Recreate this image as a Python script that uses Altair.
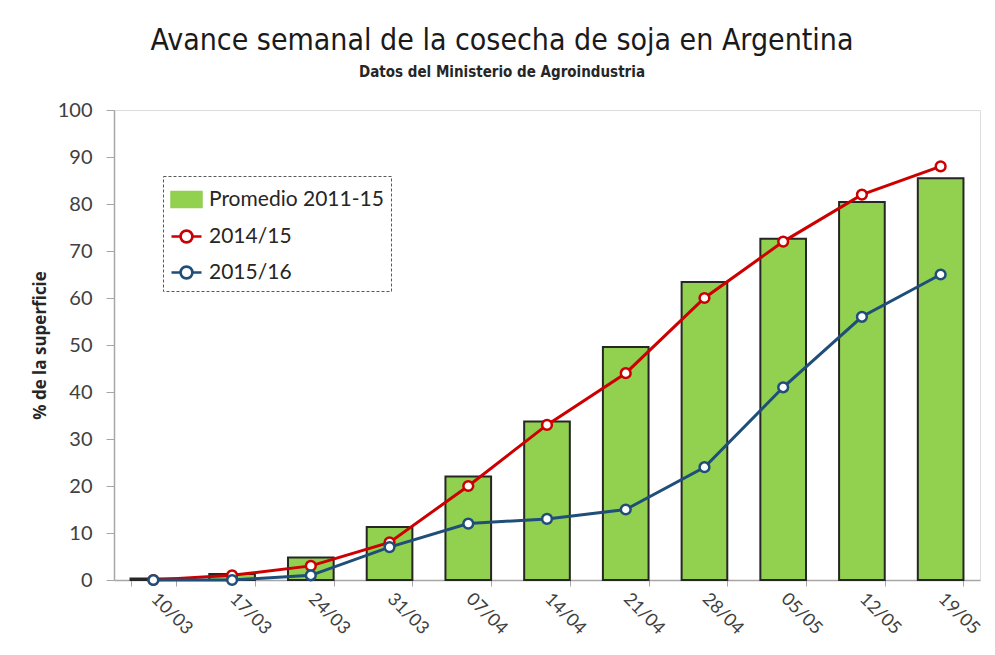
import altair as alt
import pandas as pd

fechas = ["10/03", "17/03", "24/03", "31/03", "07/04", "14/04", "21/04", "28/04", "05/05", "12/05", "19/05"]
promedio = [0.3, 1.3, 4.8, 11.3, 22.0, 33.7, 49.6, 63.4, 72.6, 80.4, 85.5]
c2014 = [0, 1, 3, 8, 20, 33, 44, 60, 72, 82, 88]
c2015 = [0, 0, 1, 7, 12, 13, 15, 24, 41, 56, 65]

series = ["Promedio 2011-15", "2014/15", "2015/16"]
colores = ["#92D050", "#CC0000", "#1F4E79"]

rows = []
for name, vals in zip(series, [promedio, c2014, c2015]):
    for f, v in zip(fechas, vals):
        rows.append({"fecha": f, "serie": name, "valor": v})
df = pd.DataFrame(rows)

FONT = "Lato"
TITLE_FONT = "'DejaVu Sans Condensed', Roboto, sans-serif"
BAR_SHAPE = "M-1,-0.5H1V0.5H-1Z"
# line with an open circle (outer and inner ring of opposite winding -> hollow centre)
LINE_SHAPE = (
    "M-1,0H-0.4M0.4,0H1"
    "M0.4,0A0.4,0.4 0 1,1 -0.4,0A0.4,0.4 0 1,1 0.4,0Z"
    "M0.39,0A0.39,0.39 0 1,0 -0.39,0A0.39,0.39 0 1,0 0.39,0Z"
)
IS_BAR = "datum.value === 'Promedio 2011-15'"

color = alt.Color(
    "serie:N",
    scale=alt.Scale(domain=series, range=colores),
    legend=alt.Legend(
        title=None,
        orient="none",
        legendX=49,
        legendY=66,
        labelFontSize=21,
        labelFont=FONT,
        labelColor="#262626",
        labelOffset=6,
        labelLimit=400,
        symbolSize=900,
        rowPadding=8,
        padding=7,
        strokeColor="#595959",
        fillColor="white",
        symbolType={"expr": f"{IS_BAR} ? '{BAR_SHAPE}' : '{LINE_SHAPE}'"},
        symbolStrokeColor={"expr": f"{IS_BAR} ? '#262626' : (datum.value === '2014/15' ? '#CC0000' : '#1F4E79')"},
        symbolStrokeWidth=2.5,
        symbolOpacity=1,
    ),
)

x = alt.X(
    "fecha:N",
    sort=fechas,
    title=None,
    scale=alt.Scale(paddingInner=0.42, paddingOuter=0.21),
    axis=alt.Axis(
        labelAngle=45,
        labelAlign="left",
        labelBaseline="middle",
        labelFontSize=18,
        labelFont=FONT,
        labelColor="#404040",
        labelPadding=10,
        tickBand="extent",
        tickSize=6,
        tickColor="#A6A6A6",
        domainColor="#A6A6A6",
        domainWidth=1.5,
    ),
)

y = alt.Y(
    "valor:Q",
    scale=alt.Scale(domain=[0, 100]),
    title="% de la superficie",
    axis=alt.Axis(
        values=list(range(0, 101, 10)),
        grid=False,
        labelFontSize=20,
        labelFont=FONT,
        labelColor="#404040",
        labelPadding=14,
        tickSize=8,
        tickColor="#A6A6A6",
        domainColor="#A6A6A6",
        domainWidth=1.5,
        titleFont="Open Sans",
        titleFontSize=17,
        titleFontWeight="bold",
        titleColor="#262626",
        titlePadding=8,
    ),
)

base = alt.Chart(df)

bars = base.transform_filter(alt.datum.serie == "Promedio 2011-15").mark_bar(
    stroke="#262626", strokeWidth=2
).encode(x=x, y=y, color=color)

lines = base.transform_filter(alt.datum.serie != "Promedio 2011-15").mark_line(
    strokeWidth=3
).encode(x=x, y=y, color=color)

points = base.transform_filter(alt.datum.serie != "Promedio 2011-15").mark_point(
    filled=False, fill="white", size=95, strokeWidth=2.5, opacity=1
).encode(x=x, y=y, color=color)

chart = alt.layer(bars, lines, points).properties(
    width=866,
    height=470,
    autosize=alt.AutoSizeParams(type="none"),
    padding={"left": 106, "top": 102, "right": 6, "bottom": 60},
    title=alt.Title(
        "Avance semanal de la cosecha de soja en Argentina",
        subtitle="Datos del Ministerio de Agroindustria",
        anchor="middle",
        dx=-45,
        offset=20,
        font=TITLE_FONT,
        fontSize=30,
        fontWeight="normal",
        color="#1A1A1A",
        subtitleFont=TITLE_FONT,
        subtitleFontSize=15,
        subtitleFontWeight="bold",
        subtitleColor="#262626",
        subtitlePadding=9,
    ),
).configure_view(stroke=None).configure(background="white")

try:
    c2 = chart.configure_legend(strokeDash=[3, 2])
    c2.to_dict()
    chart = c2
except Exception:
    pass

chart.save("out.html", embed_options={"renderer": "svg", "actions": False})
